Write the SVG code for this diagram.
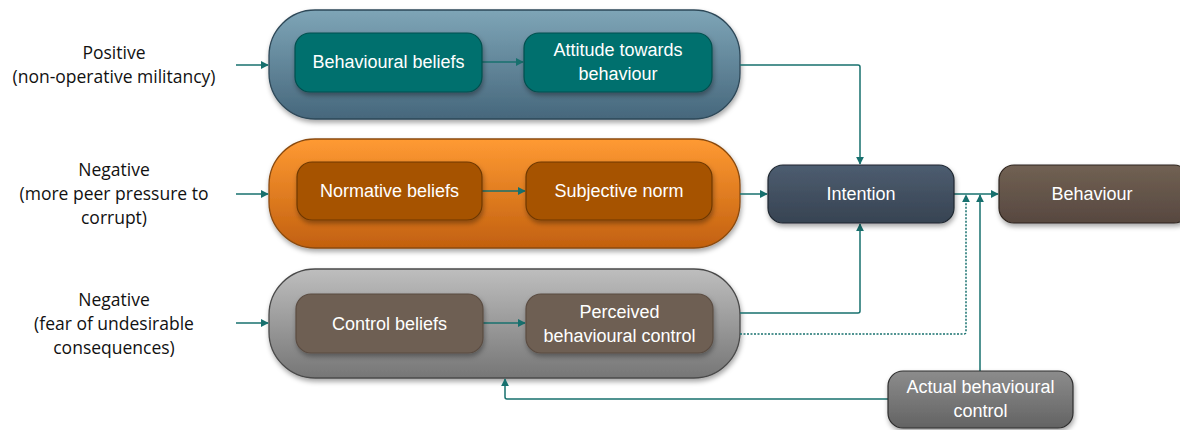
<svg xmlns="http://www.w3.org/2000/svg" width="1180" height="430" viewBox="0 0 1180 430">
<style>
.lbl{font-family:"Liberation Sans",Arial,sans-serif;font-size:18px;fill:#ffffff;text-anchor:middle}
.side{font-family:"Open Sans","Liberation Sans",sans-serif;font-size:17.5px;fill:#111111;text-anchor:middle}
.con{fill:none;stroke:#17706E;stroke-width:1.5}
.dot{fill:none;stroke:#17706E;stroke-width:1.5;stroke-dasharray:2 1.5}
.grp{stroke-width:1.3}
.box{stroke-width:1.2}
</style>
<defs>
<linearGradient id="gBlue" x1="0" y1="0" x2="0" y2="1"><stop offset="0" stop-color="#7EA5B7"/><stop offset="1" stop-color="#46677C"/></linearGradient>
<linearGradient id="gOrange" x1="0" y1="0" x2="0" y2="1"><stop offset="0" stop-color="#FF9A33"/><stop offset="1" stop-color="#C2600F"/></linearGradient>
<linearGradient id="gGray" x1="0" y1="0" x2="0" y2="1"><stop offset="0" stop-color="#BEBEBE"/><stop offset="1" stop-color="#767676"/></linearGradient>
<linearGradient id="gInt" x1="0" y1="0" x2="0" y2="1"><stop offset="0" stop-color="#4D5D70"/><stop offset="1" stop-color="#374352"/></linearGradient>
<linearGradient id="gBeh" x1="0" y1="0" x2="0" y2="1"><stop offset="0" stop-color="#716153"/><stop offset="1" stop-color="#574840"/></linearGradient>
<linearGradient id="gAct" x1="0" y1="0" x2="0" y2="1"><stop offset="0" stop-color="#8C8C8C"/><stop offset="1" stop-color="#636363"/></linearGradient>
<filter id="sh" x="-10%" y="-10%" width="120%" height="140%"><feDropShadow dx="1" dy="3" stdDeviation="2.5" flood-color="#000" flood-opacity="0.35"/></filter>
<marker id="ar" viewBox="0 0 10 10" refX="9" refY="5" markerWidth="8" markerHeight="8" orient="auto" markerUnits="userSpaceOnUse"><path d="M0,0 L10,5 L0,10 z" fill="#17706E"/></marker>
</defs>

<g id="side-labels">
<text class="side" x="114" y="59">Positive</text>
<text class="side" x="114" y="83">(non-operative militancy)</text>
<text class="side" x="114" y="176">Negative</text>
<text class="side" x="114" y="200">(more peer pressure to</text>
<text class="side" x="114" y="224">corrupt)</text>
<text class="side" x="114" y="306">Negative</text>
<text class="side" x="114" y="330">(fear of undesirable</text>
<text class="side" x="114" y="354">consequences)</text>
</g>

<g id="group-attitude">
<rect class="grp" x="269" y="10" width="471" height="109" rx="46" fill="url(#gBlue)" stroke="#2E4858" filter="url(#sh)"/>
</g>
<g id="group-norm">
<rect class="grp" x="269" y="139" width="471" height="109" rx="46" fill="url(#gOrange)" stroke="#8A4A10" filter="url(#sh)"/>
</g>
<g id="group-control">
<rect class="grp" x="269" y="269" width="471" height="109" rx="46" fill="url(#gGray)" stroke="#4A4A4A" filter="url(#sh)"/>
</g>

<g id="connectors">
<path class="con" d="M236,65 L268,65" marker-end="url(#ar)"/>
<path class="con" d="M236,194 L268,194" marker-end="url(#ar)"/>
<path class="con" d="M236,323 L268,323" marker-end="url(#ar)"/>
<path class="con" d="M482,62 L523,62" marker-end="url(#ar)"/>
<path class="con" d="M482,191 L525,191" marker-end="url(#ar)"/>
<path class="con" d="M483,323 L525,323" marker-end="url(#ar)"/>
<path class="con" d="M740,65 L858,65 Q860,65 860,67 L860,164" marker-end="url(#ar)"/>
<path class="con" d="M740,194 L767,194" marker-end="url(#ar)"/>
<path class="con" d="M740,313 L858,313 Q860,313 860,311 L860,224" marker-end="url(#ar)"/>
<path class="dot" d="M740,334 L964,334 Q966,334 966,332 L966,195" marker-end="url(#ar)"/>
<path class="con" d="M954,194 L998,194" marker-end="url(#ar)"/>
<path class="con" d="M980,371 L980,195" marker-end="url(#ar)"/>
<path class="con" d="M888,399 L507,399 Q505,399 505,397 L505,379" marker-end="url(#ar)"/>
</g>

<g id="node-behavioural-beliefs">
<rect class="box" x="295" y="33" width="187" height="59" rx="15" fill="#00706E" stroke="#004F4E" filter="url(#sh)"/>
<text class="lbl" x="388.5" y="68">Behavioural beliefs</text>
</g>
<g id="node-attitude">
<rect class="box" x="524" y="33" width="188" height="59" rx="15" fill="#00706E" stroke="#004F4E" filter="url(#sh)"/>
<text class="lbl" x="618" y="56">Attitude towards</text>
<text class="lbl" x="618" y="80">behaviour</text>
</g>
<g id="node-normative-beliefs">
<rect class="box" x="297" y="162" width="185" height="58" rx="15" fill="#A65300" stroke="#6E3800" filter="url(#sh)"/>
<text class="lbl" x="389.5" y="197">Normative beliefs</text>
</g>
<g id="node-subjective-norm">
<rect class="box" x="526" y="162" width="186" height="58" rx="15" fill="#A65300" stroke="#6E3800" filter="url(#sh)"/>
<text class="lbl" x="619" y="197">Subjective norm</text>
</g>
<g id="node-control-beliefs">
<rect class="box" x="296" y="294" width="187" height="59" rx="15" fill="#6E5E52" stroke="#5A4C42" filter="url(#sh)"/>
<text class="lbl" x="389.5" y="330">Control beliefs</text>
</g>
<g id="node-pbc">
<rect class="box" x="526" y="294" width="187" height="59" rx="15" fill="#6E5E52" stroke="#5A4C42" filter="url(#sh)"/>
<text class="lbl" x="619.5" y="318">Perceived</text>
<text class="lbl" x="619.5" y="342">behavioural control</text>
</g>
<g id="node-intention">
<rect class="box" x="768" y="165" width="186" height="58" rx="15" fill="url(#gInt)" stroke="#1E2630" filter="url(#sh)"/>
<text class="lbl" x="861" y="200">Intention</text>
</g>
<g id="node-behaviour">
<rect class="box" x="999" y="165" width="190" height="58" rx="15" fill="url(#gBeh)" stroke="#2E241E" filter="url(#sh)"/>
<text class="lbl" x="1092" y="200">Behaviour</text>
</g>
<g id="node-actual-control">
<rect class="box" x="888" y="371" width="185" height="57" rx="15" fill="url(#gAct)" stroke="#2E2E2E" filter="url(#sh)"/>
<text class="lbl" x="980.5" y="393">Actual behavioural</text>
<text class="lbl" x="980.5" y="417">control</text>
</g>
</svg>
